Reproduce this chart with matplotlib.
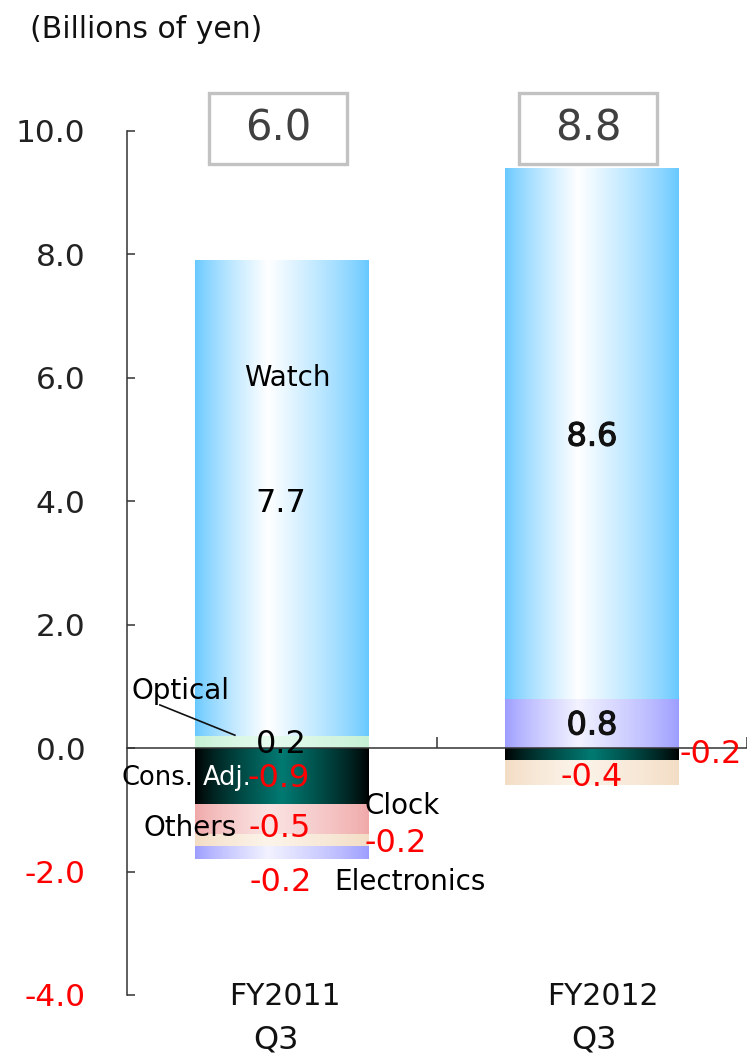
import numpy as np
import matplotlib
matplotlib.use("Agg")
import matplotlib.pyplot as plt
from matplotlib.patches import Rectangle
from matplotlib.colors import to_rgb
import matplotlib.patheffects as pe

plt.rcParams['font.family'] = ['DejaVu Sans']

# ---------------- data ----------------
categories = ["FY2011\nQ3", "FY2012\nQ3"]
optical = [0.2, 0.0]
cons_adj = [-0.9, -0.2]
others = [-0.5, 0.0]
clock = [-0.2, -0.4]
electronics = [-0.2, 0.8]
watch = [7.7, 8.6]
totals = [6.0, 8.8]
yticks = [-4.0, -2.0, 0.0, 2.0, 4.0, 6.0, 8.0, 10.0]

series = [
    ("Optical", optical),
    ("Cons. Adj.", cons_adj),
    ("Others", others),
    ("Clock", clock),
    ("Electronics", electronics),
    ("Watch", watch),
]

# gradient styles (edge colour, centre colour)
grad = {
    "Watch": ("#66c8ff", "#ffffff"),
    "Optical": ("#c4f0d4", "#e6fbee"),
    "Cons. Adj.": ("#000000", "#007a72"),
    "Others": ("#f0a8a8", "#fbe4e4"),
    "Clock": ("#f3dcc4", "#fcf4ea"),
    "Electronics": ("#9c9cff", "#f2f2ff"),
}

RED = "#ff0000"

fig = plt.figure(figsize=(7.47, 10.55), dpi=100)
ax = fig.add_axes([127/747, 1-995/1055, 620/747, (995-131)/1055])

x = np.arange(len(categories)) + 0.5
width = 0.56
pos_b = np.zeros(len(categories))
neg_b = np.zeros(len(categories))


def gradient_image(edge, centre, n=256, peak=0.45):
    e = np.array(to_rgb(edge)); c = np.array(to_rgb(centre))
    t = np.linspace(0, 1, n)
    w = np.where(t < peak, t / peak, (1 - t) / (1 - peak))
    w = np.clip(w, 0, 1) ** 0.8
    img = e[None, :] * (1 - w[:, None]) + c[None, :] * w[:, None]
    return img[None, :, :]

for name, vals in series:
    vals = np.array(vals, dtype=float)
    bottoms = np.where(vals >= 0, pos_b, neg_b)
    bars = ax.bar(x, vals, width=width, bottom=bottoms, color="none", edgecolor="none")
    for b, v in zip(bars, vals):
        if v == 0:
            continue
        x0, y0 = b.get_x(), b.get_y()
        x1, y1 = x0 + b.get_width(), y0 + b.get_height()
        img = gradient_image(*grad[name], peak=0.5 if name == "Cons. Adj." else 0.42)
        ax.imshow(img, extent=[x0, x1, min(y0, y1), max(y0, y1)], aspect="auto",
                  interpolation="bilinear", zorder=2)
    pos_b = pos_b + np.where(vals > 0, vals, 0)
    neg_b = neg_b + np.where(vals < 0, vals, 0)

ax.set_xlim(0, 2)
ax.set_ylim(-4, 10)

# spines
for s in ["top", "right"]:
    ax.spines[s].set_visible(False)
ax.spines["bottom"].set_position(("data", 0))
ax.spines["bottom"].set_zorder(3)
for s in ["left", "bottom"]:
    ax.spines[s].set_color("#333333")
    ax.spines[s].set_linewidth(1.1)

ax.set_xticks([1, 2])
ax.set_xticklabels([])
ax.tick_params(axis="x", direction="in", length=8, width=1.1, color="#333333")
ax.set_yticks(yticks)
ax.set_yticklabels([f"{t:.1f}" for t in yticks], fontsize=22.5)
ax.tick_params(axis="y", direction="in", length=6, width=1.1, color="#333333", pad=30)
for lbl, t in zip(ax.get_yticklabels(), yticks):
    lbl.set_color(RED if t < 0 else "#222222")

fs_v = 23
fs_n = 20

# category labels (two lines placed separately)
line_styles = [(0.01, -4.02, 21.5), (-0.02, -4.73, 23)]
for xi, c in zip(x, categories):
    for (dx, yy, fsz), part in zip(line_styles, c.split("\n")):
        ax.text(xi + dx + (0.025 if xi > 1 else 0), yy, part, ha="center", va="center",
                fontsize=fsz, color="#111111", clip_on=False)

# totals boxes
for xi, t in zip(x, totals):
    bw, bh = 0.448, 1.15
    cy = 10.04
    ax.add_patch(Rectangle((xi - 0.013 - bw/2, cy - bh/2), bw, bh, facecolor="white",
                           edgecolor="#c2c2c2", lw=2.4, clip_on=False, zorder=4))
    ax.text(xi - 0.013, cy, f"{t:.1f}", ha="center", va="center", fontsize=30,
            color="#404040", zorder=5, clip_on=False)

# FY2011 labels
ax.text(0.516, 6.0, "Watch", ha="center", va="center", fontsize=fs_n, zorder=5)
ax.text(0.497, 3.97, f"{watch[0]:.1f}", ha="center", va="center", fontsize=fs_v, zorder=5)
ax.text(0.174, 0.92, "Optical", ha="center", va="center", fontsize=fs_n, zorder=5)
ax.plot([0.106, 0.348], [0.70, 0.21], color="#111111", lw=1.2, zorder=5)
ax.text(0.497, 0.06, f"{optical[0]:.1f}", ha="center", va="center", fontsize=fs_v, zorder=5)
ax.text(0.213, -0.49, "Cons.", ha="right", va="center", fontsize=18.5, zorder=5, clip_on=False)
ax.text(0.243, -0.49, "Adj.", ha="left", va="center", fontsize=18.5, color="white", zorder=5)
ax.text(0.39, -0.49, f"{cons_adj[0]:.1f}", ha="left", va="center", fontsize=fs_v, color=RED, zorder=5)
ax.text(0.203, -1.30, "Others", ha="center", va="center", fontsize=fs_n, zorder=5)
ax.text(0.494, -1.30, f"{others[0]:.1f}", ha="center", va="center", fontsize=fs_v, color=RED, zorder=5)
ax.text(0.887, -0.94, "Clock", ha="center", va="center", fontsize=fs_n, zorder=5)
ax.text(0.868, -1.54, f"{clock[0]:.1f}", ha="center", va="center", fontsize=fs_v, color=RED, zorder=5)
ax.text(0.497, -2.17, f"{electronics[0]:.1f}", ha="center", va="center", fontsize=fs_v, color=RED, zorder=5)
ax.text(0.913, -2.17, "Electronics", ha="center", va="center", fontsize=fs_n, zorder=5)

# FY2012 labels
bold = [pe.withStroke(linewidth=0.8, foreground="#111111")]
ax.text(1.5, 5.04, f"{watch[1]:.1f}", ha="center", va="center", fontsize=fs_v, zorder=5,
        color="#111111", path_effects=bold)
ax.text(1.5, 0.36, f"{electronics[1]:.1f}", ha="center", va="center", fontsize=fs_v, zorder=5,
        color="#111111", path_effects=bold)
ax.text(1.884, -0.11, f"{cons_adj[1]:.1f}", ha="center", va="center", fontsize=fs_v, color=RED,
        zorder=5, clip_on=False)
ax.text(1.5, -0.47, f"{clock[1]:.1f}", ha="center", va="center", fontsize=fs_v, color=RED, zorder=5)

fig.text(30/747, 1-30/1055, "(Billions of yen)", ha="left", va="center", fontsize=21.5, color="#111111")

fig.savefig("out.png", dpi=100)
